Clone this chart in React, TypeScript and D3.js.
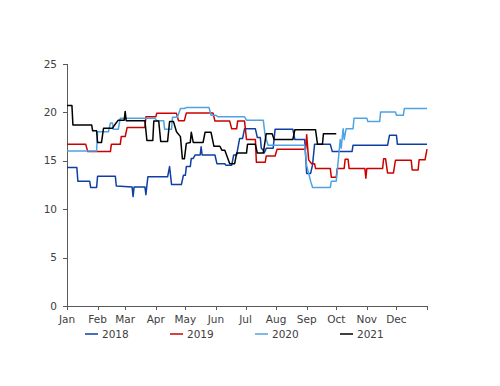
import React from 'react';
import * as d3 from 'd3';

// day of year (0 = 1 Jan) and price at each change
const series2018: [number, number][] = [
  [0, 14.3], [10, 14.3], [11, 12.9], [23, 12.9], [24, 12.25], [30, 12.25], [31, 13.4], [49, 13.4],
  [50, 12.4], [66, 12.3], [67, 11.3], [68, 12.3], [79, 12.3], [80, 11.5], [82, 13.35], [102, 13.35],
  [104, 14.4], [106, 12.55], [116, 12.55], [118, 13.5], [120, 13.5], [121, 14.4], [125, 14.4],
  [126, 15.25], [128, 15.25], [130, 15.6], [135, 15.6], [136, 16.45], [137, 15.6], [150, 15.6],
  [152, 14.7], [160, 14.7], [161, 14.55], [167, 14.55], [169, 15.6], [172, 15.6], [175, 17.3],
  [178, 17.3], [180, 18.3], [191, 18.3], [193, 17.4], [196, 17.4], [197, 16.3], [199, 16.1],
  [200, 15.8], [202, 16.3], [209, 16.3], [211, 18.25], [229, 18.25], [231, 17.2], [241, 17.2],
  [243, 13.7], [247, 13.7], [249, 14.6], [251, 16.7], [267, 16.7], [269, 15.95], [289, 15.95],
  [290, 16.6], [325, 16.6], [327, 17.65], [334, 17.65], [335, 16.7], [365, 16.7],
];

const series2019: [number, number][] = [
  [0, 16.7], [19, 16.7], [21, 15.95], [44, 15.95], [45, 16.7], [54, 16.7], [55, 17.5], [59, 17.5],
  [61, 18.45], [79, 18.45], [80, 19.55], [90, 19.55], [91, 19.9], [111, 19.9], [113, 19.15],
  [119, 19.15], [121, 19.95], [148, 19.95], [150, 19.1], [165, 19.1], [167, 18.3], [172, 18.3],
  [173, 19.1], [180, 19.1], [182, 17.2], [191, 17.2], [192, 14.85], [201, 14.85], [202, 15.5],
  [211, 15.5], [213, 16.2], [242, 16.2], [243, 17.7], [245, 15.1], [248, 14.7], [251, 14.7],
  [252, 14.2], [267, 14.2], [268, 13.3], [273, 13.3], [274, 14.2], [281, 14.2], [282, 15.15],
  [285, 15.15], [286, 14.2], [302, 14.2], [303, 13.2], [304, 14.2], [320, 14.2], [321, 15.2],
  [323, 15.2], [325, 13.75], [331, 13.75], [333, 15.05], [349, 15.05], [350, 14.05], [356, 14.05],
  [357, 15.1], [363, 15.1], [365, 16.2],
];

const series2020: [number, number][] = [
  [0, 16.0], [30, 16.0], [31, 18.0], [42, 18.0], [44, 18.9], [46, 18.9], [47, 18.25], [52, 18.25],
  [54, 19.4], [89, 19.4], [91, 19.15], [98, 19.15], [99, 18.25], [106, 18.25], [107, 19.5],
  [112, 19.5], [115, 20.4], [119, 20.4], [121, 20.5], [144, 20.5], [146, 19.7], [151, 19.7],
  [153, 19.55], [180, 19.55], [182, 19.2], [199, 19.2], [201, 17.5], [204, 16.6], [241, 16.6],
  [243, 14.5], [247, 12.9], [249, 12.25], [267, 12.25], [268, 12.9], [273, 12.9], [275, 15.0],
  [277, 17.2], [278, 16.3], [280, 18.3], [281, 17.2], [283, 18.3], [290, 18.3], [291, 19.4],
  [304, 19.4], [305, 19.05], [317, 19.05], [318, 20.05], [333, 20.05], [334, 19.7], [341, 19.7],
  [342, 20.4], [365, 20.4],
];

const series2021: [number, number][] = [
  [0, 20.7], [5, 20.7], [6, 18.7], [25, 18.7], [26, 18.1], [30, 18.1], [31, 16.9], [35, 16.9],
  [37, 18.35], [46, 18.35], [49, 18.8], [52, 19.2], [58, 19.2], [59, 20.1], [60, 19.15], [79, 19.15],
  [81, 17.1], [87, 17.1], [88, 19.1], [93, 19.1], [95, 17.0], [102, 17.0], [104, 19.05], [108, 19.05],
  [111, 18.0], [115, 17.5], [117, 15.2], [119, 15.2], [121, 16.8], [125, 16.9], [126, 17.95],
  [128, 16.9], [138, 16.9], [140, 17.95], [146, 17.95], [149, 16.5], [155, 16.5], [157, 16.1],
  [160, 16.1], [165, 14.7], [170, 14.7], [172, 15.8], [182, 15.8], [183, 16.7], [191, 16.7],
  [193, 15.8], [199, 15.8], [202, 17.8], [208, 17.8], [210, 17.2], [229, 17.2], [231, 18.2],
  [252, 18.2], [254, 16.7], [259, 16.7], [260, 17.8], [273, 17.8],
];

const seriesNames = ['2018', '2019', '2020', '2021'];
const seriesData = [series2018, series2019, series2020, series2021];
const seriesColors = ['#0e3fa3', '#cc0000', '#4fa3e3', '#000000'];

const monthLabels = ['Jan', 'Feb', 'Mar', 'Apr', 'May', 'Jun', 'Jul', 'Aug', 'Sep', 'Oct', 'Nov', 'Dec'];
const monthStarts = [0, 31, 59, 90, 120, 151, 181, 212, 243, 273, 304, 334];
const yTicks = [0, 5, 10, 15, 20, 25];

const width = 500;
const height = 386;
const font = '"DejaVu Sans", Verdana, sans-serif';
const axisColor = '#595959';

export default function App() {
  const x = d3.scaleLinear().domain([0, 365]).range([67, 427]);
  const y = d3.scaleLinear().domain([0, 25]).range([306, 64]);

  const line = d3.line<[number, number]>()
    .x(d => x(d[0]))
    .y(d => y(d[1]));

  const legendX = [85, 170, 255, 340];

  return (
    <svg width={width} height={height} style={{ position: 'absolute', left: 0, top: 0, background: '#fff' }}>
      {/* y axis */}
      <line x1={x(0) + 0.5} x2={x(0) + 0.5} y1={y(0)} y2={y(25)} stroke={axisColor} />
      {yTicks.map(t => (
        <g key={t}>
          <line x1={x(0) - 4} x2={x(0)} y1={Math.round(y(t)) + 0.5} y2={Math.round(y(t)) + 0.5} stroke={axisColor} />
          <text x={x(0) - 10} y={y(t)} dy="0.35em" textAnchor="end" fontSize={10.5} fontFamily={font} fill="#404040">{t}</text>
        </g>
      ))}

      {/* x axis */}
      <line x1={x(0)} x2={x(365)} y1={Math.round(y(0)) + 0.5} y2={Math.round(y(0)) + 0.5} stroke={axisColor} />
      {[...monthStarts, 365].map(d => (
        <line key={d} x1={Math.round(x(d)) + 0.5} x2={Math.round(x(d)) + 0.5} y1={y(0)} y2={y(0) + 4} stroke={axisColor} />
      ))}
      {monthStarts.map((d, i) => (
        <text key={d} x={x(d)} y={319} dy="0.35em" textAnchor="middle" fontSize={10.5} fontFamily={font} fill="#404040">{monthLabels[i]}</text>
      ))}

      {/* series */}
      {seriesData.map((s, i) => (
        <path key={seriesNames[i]} d={line(s) || ''} fill="none" stroke={seriesColors[i]} strokeWidth={1.5} strokeLinejoin="round" />
      ))}

      {/* legend */}
      {seriesNames.map((n, i) => (
        <g key={n}>
          <line x1={legendX[i]} x2={legendX[i] + 13} y1={334} y2={334} stroke={seriesColors[i]} strokeWidth={1.5} />
          <text x={legendX[i] + 17} y={334} dy="0.35em" fontSize={10.5} fontFamily={font} fill="#404040">{n}</text>
        </g>
      ))}
    </svg>
  );
}
